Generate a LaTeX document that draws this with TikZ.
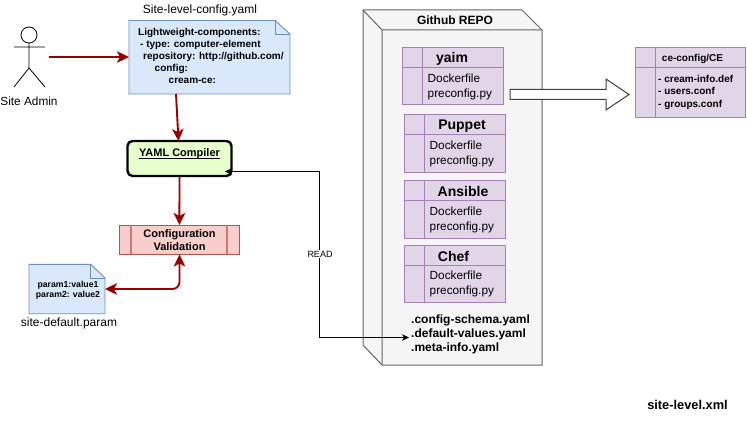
\documentclass[tikz,border=0pt]{standalone}
\usepackage{fontspec}
\setmainfont{Liberation Sans}
\usetikzlibrary{arrows.meta,shapes.geometric}
\definecolor{darkred}{HTML}{990000}
\definecolor{notefill}{HTML}{DAE8FC}
\definecolor{noteline}{HTML}{6C8EBF}
\definecolor{purpfill}{HTML}{E1D5E7}
\definecolor{purpline}{HTML}{A680B8}
\definecolor{greenfill}{HTML}{E6FFCC}
\definecolor{redfill}{HTML}{F8CECC}
\definecolor{redline}{HTML}{B85450}
\definecolor{repofill}{HTML}{F5F5F5}
\definecolor{repoline}{HTML}{666666}
\tikzset{
  redarrow/.style={draw=darkred,line width=1.9pt,-{Stealth[length=12pt,width=11.5pt,inset=3pt]}},
  redboth/.style={draw=darkred,line width=1.9pt,{Stealth[length=12pt,width=11.5pt,inset=3pt]}-{Stealth[length=12pt,width=11.5pt,inset=3pt]},rounded corners=7pt},
  blackboth/.style={draw=black,line width=0.8pt,{Stealth[length=7pt,width=6.5pt,inset=2pt]}-{Stealth[length=7pt,width=6.5pt,inset=2pt]}},
  label/.style={inner sep=0pt,font=\fontsize{12}{14}\selectfont},
  notebody/.style={inner sep=0pt,font=\fontsize{10}{12}\selectfont\bfseries,align=left},
  notebox/.style={draw=noteline,fill=notefill,line width=0.9pt},
  panel/.style={draw=purpline,fill=purpfill,line width=1pt},
  blocktitle/.style={inner sep=0pt,font=\fontsize{14}{16}\selectfont\bfseries},
  blockbody/.style={inner sep=0pt,font=\fontsize{11.8}{15}\selectfont,align=left,anchor=west}
}
\newcommand{\panelbox}[6]{% name, x0, y0, title, title-x, height
  \path[panel] (#2,#3) rectangle ++(101,#6);
  \draw[purpline,line width=1pt] (#2+20,#3) -- ++(0,#6);
  \draw[purpline,line width=1pt] (#2,#3+20) -- ++(101,0);
  \node[blocktitle] (#1t) at (#5,#3+11) {#4};
  \node[blockbody] (#1b) at (#2+25.5,#3+39) {Dockerfile\\preconfig.py};
}
\begin{document}
\begin{tikzpicture}[x=1pt,y=-1pt]
\useasboundingbox (0,0) rectangle (747,425);
\fill[white] (0,0) rectangle (747,425);

% actor
\draw[line width=0.8pt] (29,35) circle (8);
\draw[line width=0.8pt] (29,43) -- (29,68) (14,47) -- (45,47) (14,87) -- (29,68) -- (45,87);
\coordinate (actor) at (49,57);
\node[label,font=\fontsize{11.8}{14}\selectfont] (admin) at (29,101.5) {Site Admin};

% site level note
\path[notebox] (129,20.5) -- (275,20.5) -- (290,34) -- (290,94) -- (129,94) -- cycle;
\draw[noteline,line width=0.9pt] (275,20.5) -- (275,34) -- (290,34);
\coordinate (noteS) at (176,94);
\coordinate (noteW) at (129,57);
\node[label] (notetitle) at (200,10.5) {Site-level-config.yaml};
\node[notebody,anchor=north west] (notetxt) at (138,28.5) {Lightweight-components:\\
\hspace*{2pt}- type: computer-element\\
\hspace*{5pt}repository: http://github.com/\\
\hspace*{16.5pt}config:\\
\hspace*{30.5pt}cream-ce:};

% compiler
\node[draw=black,fill=greenfill,line width=2.4pt,rounded corners=5pt,minimum width=104pt,minimum height=35pt,inner sep=0pt] (comp) at (179.5,158.5) {};
\node[inner sep=0pt,font=\fontsize{11}{13}\selectfont\bfseries] (comptxt) at (179.5,153.5) {YAML Compiler};
\draw[black,line width=0.9pt] (139,158.5) -- (220,158.5);
\coordinate (compN) at (178.5,141);
\coordinate (compOut) at (179.5,177);
\coordinate (compR) at (225,171.5);

% validation
\coordinate (valIn) at (179.4,225);
\coordinate (valS) at (179.5,254.5);
\path[draw=redline,fill=redfill,line width=0.9pt] (119,225.3) rectangle (239,254.3);
\draw[redline!70!redfill,line width=1.2pt] (131,225.3) -- (131,254.3) (227,225.3) -- (227,254.3);
\node[inner sep=0pt,align=center,font=\fontsize{11}{13}\selectfont\bfseries] (valtxt) at (179.5,240.5) {Configuration\\Validation};

% param note
\path[notebox] (29,264.3) -- (90.7,264.3) -- (105,278) -- (105,313.7) -- (29,313.7) -- cycle;
\draw[noteline,line width=0.9pt] (90.7,264.3) -- (90.7,278) -- (105,278);
\coordinate (paramE) at (105,289);
\node[inner sep=0pt,align=center,font=\fontsize{8.7}{10.3}\selectfont\bfseries] (paramtxt) at (68,290) {param1:value1\\param2: value2};
\node[label] (paramlbl) at (69,323) {site-default.param};

% repo cube
\path[draw=repoline,fill=repofill,line width=1pt] (363,10) -- (522,10) -- (542,30) -- (542,365) -- (382,365) -- (363,345) -- cycle;
\draw[repoline,line width=1pt] (363,10) -- (382,30) -- (542,30) (382,30) -- (382,365);
\node[inner sep=0pt,font=\fontsize{12}{14}\selectfont\bfseries] (repotitle) at (455,20.5) {Github REPO};

% panels
\panelbox{yaim}{402}{47.5}{yaim}{452}{57.5}
\panelbox{pup}{404}{115}{Puppet}{462}{57}
\panelbox{ans}{404}{180.5}{Ansible}{463}{57.5}
\panelbox{chef}{404}{245}{Chef}{453.5}{57}

% yaml files
\node[inner sep=0pt,anchor=west,align=left,font=\fontsize{12}{14}\selectfont\bfseries] (files) at (411,334) {.config-schema.yaml\\.default-values.yaml\\.meta-info.yaml};
\coordinate (filesW) at (409,337.5);

% block arrow
\path[draw=black!75,fill=white,line width=1pt] (510,89.5) -- (606,89.5) -- (606,79) -- (629,94.5) -- (606,110) -- (606,99.5) -- (510,99.5) -- cycle;

% ce panel
\path[panel] (635,48) rectangle (745,118);
\draw[purpline,line width=1pt] (655,48) -- (655,118) (635,68) -- (745,68);
\node[inner sep=0pt,font=\fontsize{10}{12}\selectfont\bfseries] (cetitle) at (692.5,59) {ce-config/CE};
\node[inner sep=0pt,anchor=west,align=left,font=\fontsize{10}{12.5}\selectfont\bfseries] (cetxt) at (658,92) {- cream-info.def\\- users.conf\\- groups.conf};

\node[inner sep=0pt,font=\fontsize{12.8}{15}\selectfont\bfseries] (sitexml) at (687.5,405) {site-level.xml};

% connectors
\draw[redarrow] (actor) -- (noteW);
\draw[redarrow] (noteS) -- (compN);
\draw[redarrow] (compOut) -- (valIn);
\draw[redboth] (valS) -- (179.5,289) -- (paramE);
\draw[blackboth] (compR) -- (319.5,171.5) -- (319.5,337.5) -- (filesW);
\node[fill=white,inner sep=0.5pt,font=\fontsize{9}{11}\selectfont] (read) at (320,254) {READ};
\end{tikzpicture}
\end{document}
